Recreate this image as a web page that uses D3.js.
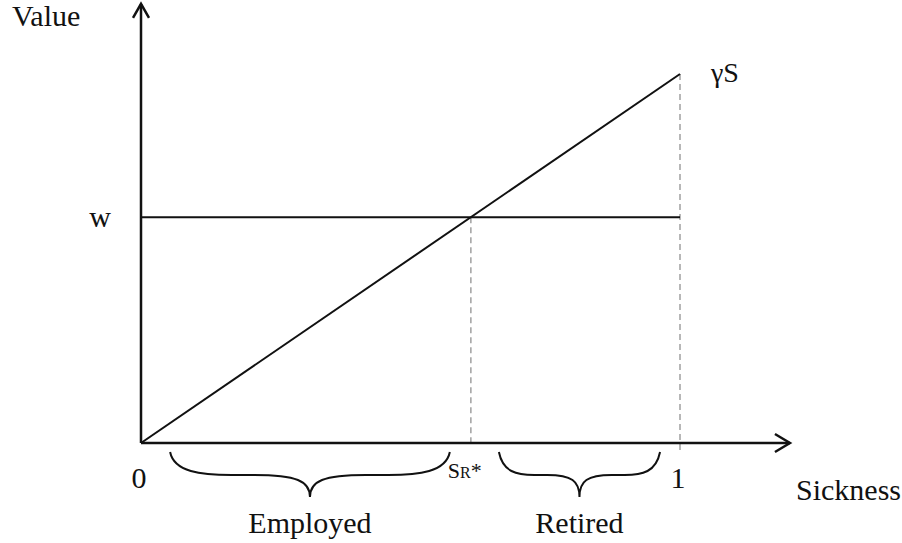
<!DOCTYPE html>
<html>
<head>
<meta charset="utf-8">
<script src="https://cdn.jsdelivr.net/npm/d3@7"></script>
<style>
  body { margin: 0; background: #fff; }
</style>
</head>
<body>
<script>
// model values (sickness on x, value on y)
const gamma = 1;
const wage = 0.612;
const sRetire = wage / gamma;   // S_R*, where gamma*S crosses w
const xTicks = [{ v: 0, label: "0" }, { v: 1, label: "1" }];
const braces = [
  { name: "Employed", from: 0.054, to: 0.573 },
  { name: "Retired", from: 0.664, to: 0.963 }
];

const width = 902, height = 543;
const serif = "'Liberation Serif', 'Times New Roman', 'DejaVu Serif', serif";

// origin at (141,443), S = 1 at x=680
const x = d3.scaleLinear().domain([0, 1]).range([141, 680]);
const y = d3.scaleLinear().domain([0, 1]).range([443, 74]);

const svg = d3.select("body").append("svg")
  .attr("width", width)
  .attr("height", height)
  .attr("font-family", serif)
  .attr("fill", "#111");

// dashed guide lines
svg.append("line")
  .attr("x1", x(sRetire)).attr("x2", x(sRetire))
  .attr("y1", y(wage)).attr("y2", y(0))
  .attr("stroke", "#a0a0a0").attr("stroke-width", 1.5)
  .attr("stroke-dasharray", "6,4");
svg.append("line")
  .attr("x1", x(1)).attr("x2", x(1))
  .attr("y1", y(gamma)).attr("y2", y(0) + 9)
  .attr("stroke", "#a0a0a0").attr("stroke-width", 1.5)
  .attr("stroke-dasharray", "6,4");

// wage line
svg.append("line")
  .attr("x1", x(0)).attr("x2", x(1))
  .attr("y1", y(wage)).attr("y2", y(wage))
  .attr("stroke", "#111").attr("stroke-width", 2);

// gamma*S line
const line = d3.line().x(d => x(d)).y(d => y(gamma * d));
svg.append("path")
  .datum([0, 1])
  .attr("d", line)
  .attr("fill", "none")
  .attr("stroke", "#111").attr("stroke-width", 2);

// axes with open arrow heads
const xEnd = 1.204, yEnd = 1.19;
svg.append("line")
  .attr("x1", x(0)).attr("x2", x(xEnd))
  .attr("y1", y(0)).attr("y2", y(0))
  .attr("stroke", "#111").attr("stroke-width", 2.5);
svg.append("line")
  .attr("x1", x(0)).attr("x2", x(0))
  .attr("y1", y(0)).attr("y2", y(yEnd))
  .attr("stroke", "#111").attr("stroke-width", 2.5);
svg.append("path")
  .attr("d", `M${x(xEnd) - 15},${y(0) - 9} L${x(xEnd)},${y(0)} L${x(xEnd) - 15},${y(0) + 9}`)
  .attr("fill", "none").attr("stroke", "#111").attr("stroke-width", 2.5);
svg.append("path")
  .attr("d", `M${x(0) - 8},${y(yEnd) + 14} L${x(0)},${y(yEnd)} L${x(0) + 8},${y(yEnd) + 14}`)
  .attr("fill", "none").attr("stroke", "#111").attr("stroke-width", 2.5);

// curly braces under the axis
function bracePath(d) {
  const x0 = x(d.from), x1 = x(d.to), xm = (x0 + x1) / 2;
  const y0 = y(0) + 9, y1 = y(0) + 32, yt = y(0) + 54;
  const w = x1 - x0;
  const a = w * 0.22, b = w * 0.08;
  return `M${x0},${y0}` +
    ` C${x0 + 4},${y1 - 3} ${x0 + a * 0.5},${y1} ${x0 + a},${y1}` +
    ` L${xm - b * 2.5},${y1}` +
    ` C${xm - b * 0.6},${y1} ${xm},${y1 + 6} ${xm},${yt}` +
    ` C${xm},${y1 + 6} ${xm + b * 0.6},${y1} ${xm + b * 2.5},${y1}` +
    ` L${x1 - a},${y1}` +
    ` C${x1 - a * 0.5},${y1} ${x1 - 4},${y1 - 3} ${x1},${y0}`;
}
svg.selectAll("path.brace")
  .data(braces)
  .join("path")
  .attr("class", "brace")
  .attr("d", bracePath)
  .attr("fill", "none")
  .attr("stroke", "#111").attr("stroke-width", 2);

svg.selectAll("text.brace-label")
  .data(braces)
  .join("text")
  .attr("class", "brace-label")
  .attr("x", d => (x(d.from) + x(d.to)) / 2)
  .attr("y", 533)
  .attr("text-anchor", "middle")
  .attr("font-size", 30)
  .text(d => d.name);

// tick labels
svg.selectAll("text.tick")
  .data(xTicks)
  .join("text")
  .attr("class", "tick")
  .attr("x", d => x(d.v) - 2)
  .attr("y", 488)
  .attr("text-anchor", "middle")
  .attr("font-size", 30)
  .text(d => d.label);

// S_R* label
const sr = svg.append("text")
  .attr("x", x(sRetire) - 23)
  .attr("y", 478)
  .attr("font-size", 22);
sr.append("tspan").text("S");
sr.append("tspan").attr("font-size", 16).text("R");
sr.append("tspan").text("*");

// axis titles and line labels
svg.append("text").attr("x", 12).attr("y", 26)
  .attr("font-size", 30).text("Value");
svg.append("text").attr("x", 796).attr("y", 500)
  .attr("font-size", 30).text("Sickness");
svg.append("text").attr("x", 100).attr("y", 227)
  .attr("text-anchor", "middle")
  .attr("font-size", 30).text("w");
svg.append("text").attr("x", 711).attr("y", 82)
  .attr("font-size", 28).text("γS");
</script>
</body>
</html>
